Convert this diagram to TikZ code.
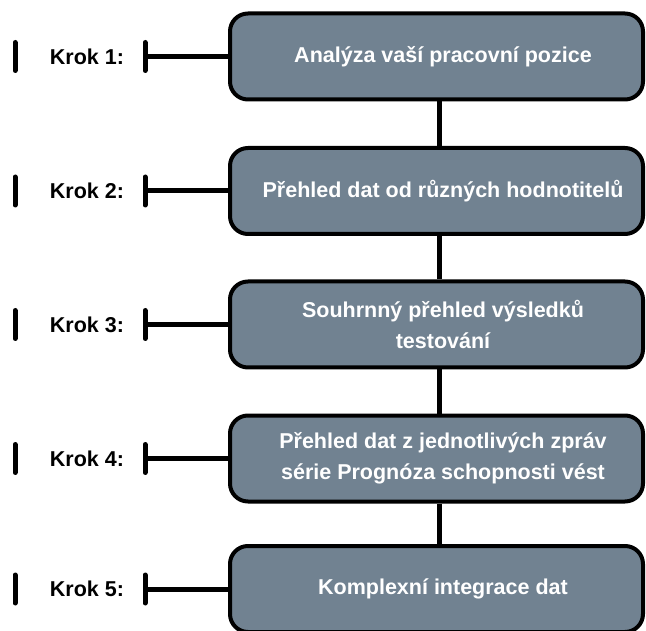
\documentclass[tikz,border=0pt]{standalone}
\usepackage{fontspec}
\setmainfont{Liberation Sans}[BoldFont={Liberation Sans Bold}]
\usetikzlibrary{backgrounds}
\definecolor{boxfill}{RGB}{113,130,145}
\tikzset{
  stepbox/.style={draw=black, line width=4pt, fill=boxfill, rounded corners=18pt,
    minimum width=413pt, minimum height=86pt, inner sep=0pt},
  steptext/.style={text=white, font=\bfseries\fontsize{21.5}{30.5}\selectfont,
    align=center, inner sep=0pt},
  steplabel/.style={text=black, font=\bfseries\fontsize{21.5}{24}\selectfont, inner sep=0pt},
  tickmark/.style={line width=5pt, line cap=round},
  linkline/.style={line width=5pt}
}
\begin{document}
\begin{tikzpicture}[x=1pt, y=-1pt]
\useasboundingbox (0,0) rectangle (646,631);

% the five step boxes
\foreach \i/\y in {1/56.5, 2/191, 3/324.5, 4/458.5, 5/589}
  \node[stepbox] (b\i) at (436.5,\y) {};

% box captions, set slightly right of the box centre
\node[steptext] (t1) at ([xshift=6.5pt]b1.center) {Analýza vaší pracovní pozice};
\node[steptext] (t2) at ([xshift=6.5pt]b2.center) {Přehled dat od různých hodnotitelů};
\node[steptext] (t3) at ([xshift=6.5pt]b3.center) {Souhrnný přehled výsledků\\testování};
\node[steptext] (t4) at ([xshift=6.5pt]b4.center) {Přehled dat z jednotlivých zpráv\\série Prognóza schopnosti vést};
\node[steptext] (t5) at ([xshift=6.5pt]b5.center) {Komplexní integrace dat};

% step labels with their brackets
\foreach \i in {1,...,5} {
  \node[steplabel] (k\i) at (87,0 |- b\i.center) {Krok \i:};
  \coordinate (l\i) at (15,0 |- b\i.center);
  \coordinate (r\i) at (145,0 |- b\i.center);
  \draw[tickmark] ([yshift=-14pt]l\i) -- ([yshift=14pt]l\i);
  \draw[tickmark] ([yshift=-14pt]r\i) -- ([yshift=14pt]r\i);
}

\begin{scope}[on background layer]
  \foreach \i in {1,...,5} {
    \draw[linkline] (r\i) -- (b\i.west);
  }
  \foreach \a/\b in {1/2, 2/3, 3/4, 4/5} {
    \draw[linkline] ([xshift=3pt]b\a.south) -- ([xshift=3pt]b\b.north);
  }
\end{scope}
\end{tikzpicture}
\end{document}
